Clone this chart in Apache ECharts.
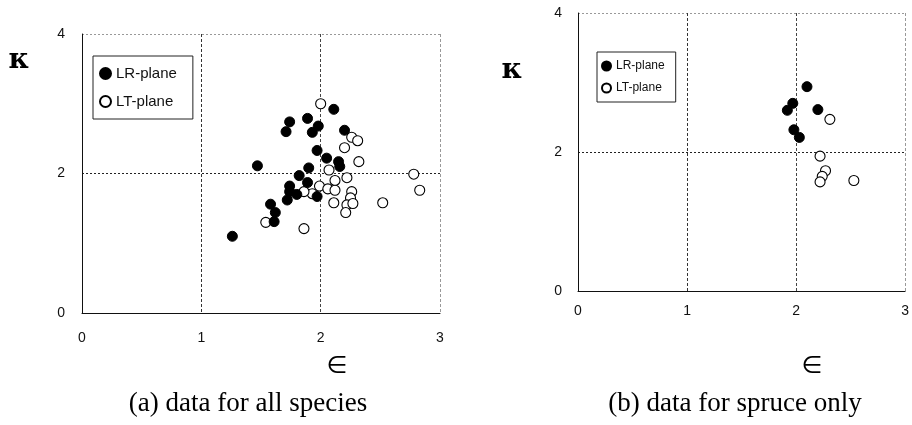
<!DOCTYPE html>
<html>
<head>
<meta charset="utf-8">
<script src="https://cdn.jsdelivr.net/npm/echarts@6/dist/echarts.min.js"></script>
<style>
html,body{margin:0;padding:0;background:#fff;}
#chart{width:912px;height:425px;}
</style>
</head>
<body>
<div id="chart"></div>
<script>
// ---- data ----
const xTicks = [0, 1, 2, 3];
const yTicks = [0, 2, 4];

// (a) all species
const lrAllX = [2.11, 1.74, 1.71, 1.89, 1.98, 1.93, 2.20, 1.97, 2.05, 2.15, 2.16, 1.47, 1.90, 1.82, 1.89, 1.74, 1.74, 1.80, 1.72, 1.97, 1.58, 1.62, 1.61, 1.26];
const lrAllY = [2.92, 2.74, 2.60, 2.79, 2.68, 2.59, 2.62, 2.33, 2.22, 2.17, 2.10, 2.11, 2.08, 1.97, 1.87, 1.82, 1.74, 1.70, 1.62, 1.67, 1.56, 1.44, 1.31, 1.10];
const ltAllX = [2.00, 2.26, 2.31, 2.20, 2.32, 2.07, 2.22, 2.12, 2.78, 2.83, 1.99, 2.06, 2.12, 1.93, 1.86, 2.26, 2.25, 2.11, 2.22, 2.27, 2.21, 2.52, 1.54, 1.86];
const ltAllY = [3.00, 2.52, 2.47, 2.37, 2.17, 2.05, 1.94, 1.90, 1.99, 1.76, 1.82, 1.78, 1.76, 1.71, 1.74, 1.74, 1.65, 1.58, 1.55, 1.57, 1.44, 1.58, 1.30, 1.21];

// (b) spruce only
const lrSpruceX = [2.10, 1.97, 1.92, 2.20, 1.98, 2.03];
const lrSpruceY = [2.94, 2.70, 2.60, 2.61, 2.32, 2.21];
const ltSpruceX = [2.31, 2.22, 2.27, 2.24, 2.22, 2.53];
const ltSpruceY = [2.47, 1.94, 1.73, 1.65, 1.57, 1.59];

const seriesNames = ['LR-plane', 'LT-plane'];
const captionA = '(a) data for all species';
const captionB = '(b) data for spruce only';
const yName = 'κ';
const xName = '∈';

// ---- helpers ----
const pairs = (xs, ys) => xs.map((x, i) => [x, ys[i]]);
const sans = 'Liberation Sans';
const serif = 'Liberation Serif';

function xAxis(gi, fs, margin) {
  return {
    type: 'value', gridIndex: gi, min: xTicks[0], max: xTicks[xTicks.length - 1], interval: 1,
    axisLine: { show: true, onZero: false, lineStyle: { color: '#111', width: 1 } },
    axisTick: { show: false },
    axisLabel: { color: '#111', fontFamily: sans, fontSize: fs, margin: margin },
    splitLine: { show: true, lineStyle: { color: ['#000', '#333', '#444', '#999'], type: [3, 2], width: 1 } }
  };
}
function yAxis(gi, fs, margin) {
  return {
    type: 'value', gridIndex: gi, min: yTicks[0], max: yTicks[yTicks.length - 1], interval: 2,
    axisLine: { show: true, onZero: false, lineStyle: { color: '#111', width: 1 } },
    axisTick: { show: false },
    axisLabel: { color: '#111', fontFamily: sans, fontSize: fs, margin: margin },
    splitLine: { show: true, lineStyle: { color: ['#000', '#222', '#999'], type: [2, 2], width: 1 } }
  };
}
const filled = { color: '#000', borderColor: '#000', borderWidth: 1, opacity: 1 };
const open = { color: '#fff', borderColor: '#000', borderWidth: 1.1, opacity: 1 };

const chart = echarts.init(document.getElementById('chart'), null, { renderer: 'canvas' });
chart.setOption({
  backgroundColor: '#fff',
  animation: false,
  grid: [
    { left: 82, top: 34, width: 358, height: 279 },
    { left: 578, top: 13, width: 332, height: 278 }
  ],
  xAxis: [xAxis(0, 14, 18), xAxis(1, 14, 13)],
  yAxis: [yAxis(0, 14, 17), yAxis(1, 14, 16)],
  legend: [
    {
      left: 93, top: 56, orient: 'vertical', itemGap: 13, itemWidth: 11, itemHeight: 11,
      padding: [10, 16, 10, 6], borderColor: '#222', borderWidth: 1, backgroundColor: '#fff',
      textStyle: { fontFamily: sans, fontSize: 15, color: '#111' },
      data: seriesNames, selectedMode: false
    },
    {
      left: 597, top: 52, orient: 'vertical', itemGap: 10, itemWidth: 9, itemHeight: 9,
      padding: [8, 11, 8, 4], borderColor: '#222', borderWidth: 1, backgroundColor: '#fff',
      textStyle: { fontFamily: sans, fontSize: 12, color: '#111' },
      data: seriesNames, selectedMode: false
    }
  ],
  series: [
    { name: seriesNames[0], type: 'scatter', xAxisIndex: 0, yAxisIndex: 0, symbol: 'circle', symbolSize: 10, itemStyle: filled, data: pairs(lrAllX, lrAllY), z: 3 },
    { name: seriesNames[1], type: 'scatter', xAxisIndex: 0, yAxisIndex: 0, symbol: 'circle', symbolSize: 10, itemStyle: open, data: pairs(ltAllX, ltAllY), z: 2 },
    { name: seriesNames[0], type: 'scatter', xAxisIndex: 1, yAxisIndex: 1, symbol: 'circle', symbolSize: 10, itemStyle: filled, data: pairs(lrSpruceX, lrSpruceY), z: 3 },
    { name: seriesNames[1], type: 'scatter', xAxisIndex: 1, yAxisIndex: 1, symbol: 'circle', symbolSize: 10, itemStyle: open, data: pairs(ltSpruceX, ltSpruceY), z: 2 }
  ],
  graphic: [
    { type: 'text', x: 19, y: 61, style: { text: yName, fontFamily: 'DejaVu Serif', fontWeight: 'bold', fontSize: 28, fill: '#000', align: 'center', verticalAlign: 'middle' } },
    { type: 'text', x: 512, y: 71, style: { text: yName, fontFamily: 'DejaVu Serif', fontWeight: 'bold', fontSize: 28, fill: '#000', align: 'center', verticalAlign: 'middle' } },
    { type: 'text', x: 337, y: 367, style: { text: xName, fontFamily: 'DejaVu Sans', fontSize: 24, fill: '#000', align: 'center', verticalAlign: 'middle' } },
    { type: 'text', x: 812, y: 367, style: { text: xName, fontFamily: 'DejaVu Sans', fontSize: 24, fill: '#000', align: 'center', verticalAlign: 'middle' } },
    { type: 'text', x: 248, y: 404, style: { text: captionA, fontFamily: serif, fontSize: 27, fill: '#000', align: 'center', verticalAlign: 'middle' } },
    { type: 'text', x: 735, y: 404, style: { text: captionB, fontFamily: serif, fontSize: 27, fill: '#000', align: 'center', verticalAlign: 'middle' } }
  ]
});
</script>
</body>
</html>
